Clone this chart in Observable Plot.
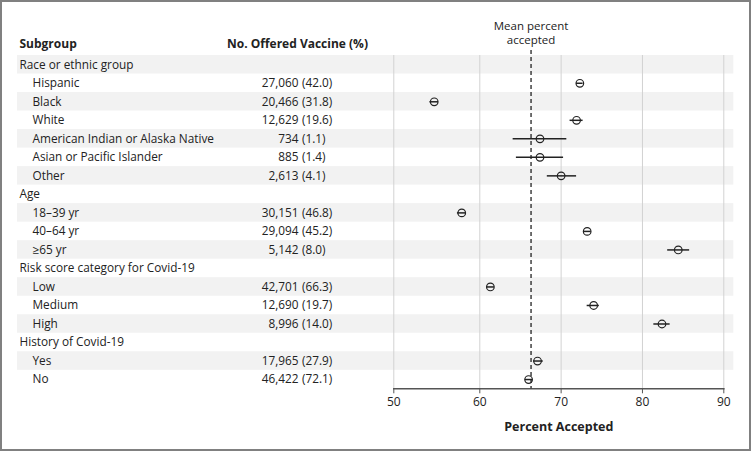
<!DOCTYPE html>
<html>
<head>
<meta charset="utf-8">
<script src="https://cdn.jsdelivr.net/npm/d3@7"></script>
<script src="https://cdn.jsdelivr.net/npm/@observablehq/plot@0.6"></script>
<style>
  html, body { margin: 0; padding: 0; background: white; }
  svg { display: block; }
</style>
</head>
<body>
<div id="chart"></div>
<script>
// ---- Data ----
const groupLabels = ["Race or ethnic group", "Age", "Risk score category for Covid-19", "History of Covid-19"];
const subgroupLabels = [
  ["Hispanic", "Black", "White", "American Indian or Alaska Native", "Asian or Pacific Islander", "Other"],
  ["18–39 yr", "40–64 yr", "≥65 yr"],
  ["Low", "Medium", "High"],
  ["Yes", "No"]
];
const offeredCount = [27060, 20466, 12629, 734, 885, 2613, 30151, 29094, 5142, 42701, 12690, 8996, 17965, 46422];
const offeredPct   = [42.0, 31.8, 19.6, 1.1, 1.4, 4.1, 46.8, 45.2, 8.0, 66.3, 19.7, 14.0, 27.9, 72.1];
const pctAccepted  = [72.3, 54.7, 71.9, 67.4, 67.4, 70.0, 57.9, 73.2, 84.4, 61.3, 74.0, 82.4, 67.1, 66.0];
const ciLower      = [71.9, 54.2, 71.1, 64.1, 64.5, 68.3, 57.4, 72.8, 83.1, 60.9, 73.2, 81.4, 66.6, 65.6];
const ciUpper      = [72.7, 55.2, 72.7, 70.7, 70.3, 71.9, 58.4, 73.7, 85.8, 61.8, 74.7, 83.4, 67.8, 66.5];
const meanAccepted = 66.3;
const xTicks = [50, 60, 70, 80, 90];
const headers = ["Subgroup", "No. Offered Vaccine (%)"];
const xLabel = "Percent Accepted";
const meanLabelLines = ["Mean percent", "accepted"];

// ---- Build table ----
const rows = [];
let k = 0;
groupLabels.forEach((g, gi) => {
  rows.push({row: rows.length, label: g, group: true});
  subgroupLabels[gi].forEach(s => {
    rows.push({
      row: rows.length, label: s, group: false,
      count: d3.format(",")(offeredCount[k]),
      pct: "(" + offeredPct[k].toFixed(1) + ")",
      accepted: pctAccepted[k], lo: ciLower[k], hi: ciUpper[k]
    });
    k++;
  });
});
const items = rows.filter(d => !d.group);
const groupRows = rows.filter(d => d.group);
const shaded = rows.filter(d => d.row % 2 === 0);

const W = 751, H = 451;
const ML = 393.3, MR = W - 723.3, MT = 55, MB = H - 388.3;
const font = "'Open Sans', sans-serif";
const ink = "#222";
const fs = 11.8;

const chart = Plot.plot({
  width: W, height: H,
  marginLeft: ML, marginRight: MR, marginTop: MT, marginBottom: MB,
  style: {fontFamily: font, fontSize: "12px", color: ink, background: "white", boxShadow: "inset 0 0 0 2px #808080"},
  x: {type: "linear", domain: [50, 60, 90], range: [393.3, 479.3, 723.3]},
  y: {type: "band", domain: d3.range(rows.length), padding: 0, round: false, axis: null},
  marks: [
    Plot.cell(shaded, {y: "row", fill: "#f2f2f2", insetLeft: -(ML - 17), insetRight: -10}),
    Plot.gridX(xTicks, {stroke: "#d2d2d2", strokeOpacity: 1, strokeWidth: 1}),
    Plot.frame({anchor: "bottom", stroke: "#555", strokeWidth: 1.5}),
    Plot.ruleX([meanAccepted], {stroke: "#111", strokeWidth: 1.2, strokeDasharray: "4,3", insetTop: -5}),
    Plot.ruleY(items, {x1: "lo", x2: "hi", y: "row", stroke: ink, strokeWidth: 1.5}),
    Plot.dot(items, {x: "accepted", y: "row", r: 3.8, stroke: ink, strokeWidth: 1.2, fill: "none"}),
    // table text
    Plot.text(groupRows, {y: "row", text: "label", frameAnchor: "left", textAnchor: "start", dx: 19 - ML, fill: ink, fontSize: fs}),
    Plot.text(items, {y: "row", text: "label", frameAnchor: "left", textAnchor: "start", dx: 32 - ML, fill: ink, fontSize: fs}),
    Plot.text(items, {y: "row", text: "count", frameAnchor: "left", textAnchor: "end", dx: 298 - ML, fill: ink, fontSize: fs}),
    Plot.text(items, {y: "row", text: "pct", frameAnchor: "left", textAnchor: "start", dx: 301.5 - ML, fill: ink, fontSize: fs}),
    // headers
    Plot.text([headers[0]], {frameAnchor: "top-left", textAnchor: "start", lineAnchor: "middle", dx: 19 - ML, dy: -11.5, fontWeight: "bold", fontSize: 12, fill: ink}),
    Plot.text([headers[1]], {frameAnchor: "top-left", textAnchor: "middle", lineAnchor: "middle", dx: 297 - ML, dy: -11.5, fontWeight: "bold", fontSize: 12, fill: ink}),
    // mean label (two lines)
    Plot.text([meanAccepted], {x: d => d, text: () => meanLabelLines[0], frameAnchor: "top", lineAnchor: "middle", dy: -29.5, fontSize: 11.5, fill: ink}),
    Plot.text([meanAccepted], {x: d => d, text: () => meanLabelLines[1], frameAnchor: "top", lineAnchor: "middle", dy: -15.5, fontSize: 11.5, fill: ink}),
    // axis
    Plot.axisX({ticks: xTicks, tickSize: 5, tickPadding: 4, stroke: "#555", fontSize: 12, label: null, color: ink}),
    Plot.text([xLabel], {frameAnchor: "bottom", lineAnchor: "middle", dy: 38.5, fontWeight: "bold", fontSize: 12.5, fill: ink})
  ]
});
document.getElementById("chart").appendChild(chart);
</script>
</body>
</html>
